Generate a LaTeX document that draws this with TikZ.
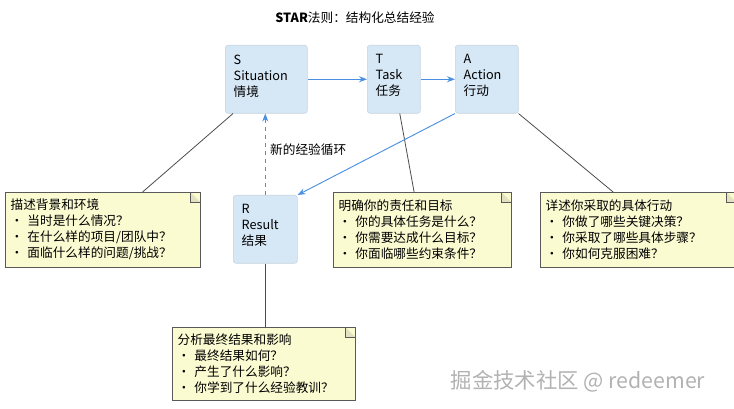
\documentclass[tikz,border=0pt]{standalone}
\usepackage{fontspec}
\setmainfont{Noto Sans CJK SC}
\usetikzlibrary{positioning,arrows.meta,calc}
\definecolor{boxfill}{HTML}{D6E7F6}
\definecolor{notefill}{HTML}{FBFBD2}
\definecolor{flow}{HTML}{4A90E2}
\tikzset{
    x=0.75pt,
    y=-0.75pt,
    font=\fontsize{9.5}{12}\selectfont,
    phase/.style = {
        fill=boxfill,
        draw=boxfill!80!gray,
        rounded corners=2pt,
        align=left,
        anchor=north west,
        inner sep=0pt
    },
    note/.style = {
        fill=notefill,
        draw=gray!70!black,
        align=left,
        anchor=north west,
        inner xsep=4pt,
        inner ysep=3pt
    },
    pin/.style = {
        draw=black!70,
        line width=0.6pt
    },
    flow/.style = {
        draw=flow,
        line width=0.7pt,
        -{Stealth[length=6pt]}
    },
}

\begin{document}
\begin{tikzpicture}
    \useasboundingbox (0,0) rectangle (734,409);
    \node (title) at (355,18) {\textbf{STAR}法则：结构化总结经验};

    % phases
    \node[phase, minimum width=82*0.75pt, minimum height=68*0.75pt] (s) at (225,45) {};
    \node[phase, minimum width=53*0.75pt, minimum height=68*0.75pt] (t) at (367,45) {};
    \node[phase, minimum width=63*0.75pt, minimum height=68*0.75pt] (a) at (455,45) {};
    \node[phase, minimum width=64*0.75pt, minimum height=68*0.75pt] (r) at (233,195) {};
    \node[align=left, anchor=north west] (slabel) at (229,50) {S\\Situation\\情境};
    \node[align=left, anchor=north west] (tlabel) at (371,50) {T\\Task\\任务};
    \node[align=left, anchor=north west] (alabel) at (459,50) {A\\Action\\行动};
    \node[align=left, anchor=north west] (rlabel) at (237,200) {R\\Result\\结果};

    % notes
    \node[note, text width=184*0.75pt, minimum height=75*0.75pt] (snote) at (5,192)
        {描述背景和环境\\• 当时是什么情况？\\• 在什么样的项目/团队中？\\• 面临什么样的问题/挑战？};
    \node[note, text width=167*0.75pt, minimum height=75*0.75pt] (tnote) at (333,192)
        {明确你的责任和目标\\• 你的具体任务是什么？\\• 你需要达成什么目标？\\• 你面临哪些约束条件？};
    \node[note, text width=185*0.75pt, minimum height=75*0.75pt] (anote) at (540,192)
        {详述你采取的具体行动\\• 你做了哪些关键决策？\\• 你采取了哪些具体步骤？\\• 你如何克服困难？};
    \node[note, text width=172*0.75pt, minimum height=73*0.75pt] (rnote) at (172,327)
        {分析最终结果和影响\\• 最终结果如何？\\• 产生了什么影响？\\• 你学到了什么经验教训？};
    \foreach \n in {snote,tnote,anote,rnote}
        \draw[gray!70!black, fill=notefill!80!gray] ($(\n.north east)+(-10,0)$) -- ++(0,10) -- ++(10,0);

    % pins
    \draw[pin] ($(s.south west)+(8,0)$) -- ($(snote.north)+(40,0)$);
    \draw[pin] ($(t.south)+(6,0)$) -- ($(tnote.north)+(-8,0)$);
    \draw[pin] (a.south east) -- ($(anote.north)+(-25,0)$);
    \draw[pin] (r.south) -- (rnote.north -| r.south);

    % flow
    \draw[flow] (s) -- (t);
    \draw[flow] (t) -- (a);
    \draw[flow] (a.south west) -- (r.north east);
    \draw[flow, dashed] (r.north) -- (s.south -| r.north) node[pos=0.55, right] (loop) {新的经验循环};

    \node[text=gray!60, font=\fontsize{16}{19}\selectfont] (mark) at (578,381) {掘金技术社区 @ redeemer};
\end{tikzpicture}
\end{document}
